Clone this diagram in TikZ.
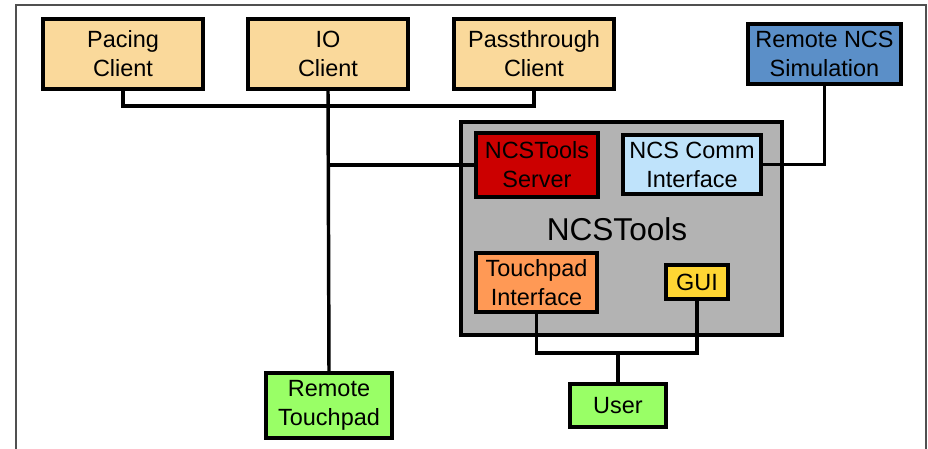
\documentclass[tikz,border=0pt]{standalone}
\usepackage{fontspec}
\setmainfont{Liberation Sans}
\usepackage{xcolor}
\usetikzlibrary{positioning}
\definecolor{clientfill}{RGB}{250,217,155}
\definecolor{simfill}{RGB}{91,143,200}
\definecolor{toolsfill}{RGB}{179,179,179}
\definecolor{serverfill}{RGB}{204,0,0}
\definecolor{commfill}{RGB}{191,227,251}
\definecolor{touchfill}{RGB}{255,153,85}
\definecolor{guifill}{RGB}{255,214,51}
\definecolor{userfill}{RGB}{153,255,102}
\definecolor{framegray}{RGB}{80,80,80}

\begin{document}
\begin{tikzpicture}[x=0.75pt,y=-0.75pt,
  box/.style={draw,line width=2.6pt,align=center,inner sep=0pt,
    font=\fontsize{17.6}{21.7}\selectfont},
  client/.style={box,fill=clientfill,minimum width=120pt,minimum height=52.5pt},
  wire/.style={line width=2.6pt}]
  \useasboundingbox (0,0) rectangle (928,449);
  % outer frame, open at the bottom
  \draw[framegray,line width=1.8pt] (16,449) -- (16,5) -- (926,5) -- (926,449);

  % clients along the top
  \node[client] (pacing) at (123,54) {Pacing\\Client};
  \node[client] (io) at (328,54) {IO\\Client};
  \node[client] (pass) at (534,54) {Passthrough\\Client};
  \node[box,fill=simfill,minimum width=114.75pt,minimum height=45pt] (remsim) at (824.5,54) {Remote NCS\\Simulation};

  % ncstools and its parts
  \node[draw,line width=3.2pt,fill=toolsfill,minimum width=240.75pt,minimum height=159.75pt] (tools) at (621.5,228.5) {};
  \node[font=\fontsize{23.7}{28}\selectfont] (toolslabel) at (617,229) {NCSTools};
  \node[box,fill=serverfill,minimum width=91.5pt,minimum height=48pt] (server) at (537,165) {NCSTools\\Server};
  \node[box,fill=commfill,minimum width=103.5pt,minimum height=44.25pt] (comm) at (692,164.5) {NCS Comm\\Interface};
  \node[box,fill=touchfill,minimum width=90.75pt,minimum height=44.25pt] (touchif) at (536.5,282.5) {Touchpad\\Interface};
  \node[box,fill=guifill,minimum width=46.5pt,minimum height=25.5pt] (gui) at (697,282) {GUI};

  % bottom row
  \node[box,fill=userfill,minimum width=94.5pt,minimum height=48.75pt] (remtouch) at (329,405.5) {Remote\\Touchpad};
  \node[box,fill=userfill,minimum width=72pt,minimum height=32.25pt] (user) at (618,405.5) {User};

  % wiring
  \coordinate (bus) at (329,106);
  \coordinate (split) at (618,353);
  \draw[wire] (pacing.south) |- (bus) -| (pass.south);
  \draw[wire] (io.south) -- (remtouch.north);
  \draw[wire] (io.south |- server.west) -- (server.west);
  \draw[wire] (remsim.south) |- (comm.east);
  \draw[wire] (touchif.south) |- (split) -| (gui.south);
  \draw[wire] (split) -- (user.north);
\end{tikzpicture}
\end{document}
